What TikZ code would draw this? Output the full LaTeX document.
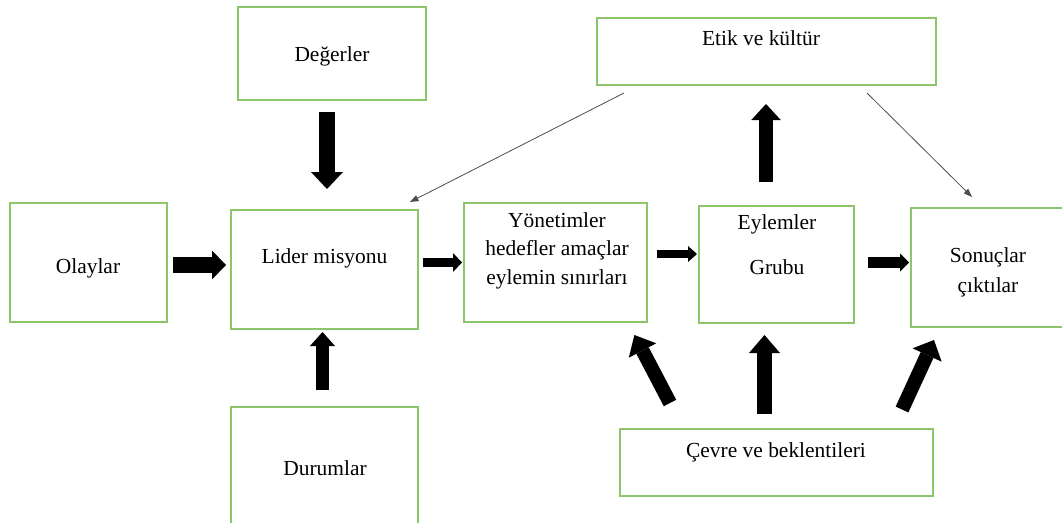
\documentclass[tikz,border=0pt]{standalone}
\usepackage{fontspec}
\setmainfont{Liberation Serif}
\usepackage{tikz}
\usetikzlibrary{calc}
\usetikzlibrary{arrows.meta}

\tikzset{
  box/.style={draw=r141g198b106, line width=0.030000cm, inner sep=0pt},
  boxtext/.style={inner sep=0pt, align=center},
  bigarrow/.style n args={3}{line width=#1, -{Triangle[width=#2, length=#3, line width=0pt]}},
  thinarrow/.style={line width=0.016cm, draw=black!70, -{Triangle[width=0.130000cm, length=0.170000cm, line width=0pt]}}
}

\begin{document}
\begin{tikzpicture}
                        \useasboundingbox (0,0) rectangle (21.240000,10.440000);
                        \clip (0,0) rectangle (21.240000,10.440000);
                        {\fontsize{12.2}{16.2}\selectfont

                        % Changing color 141 198 106
                        \definecolor{r141g198b106}{RGB}{141,198,106}%

                        % Drawing box Degerler
                        \node [box, minimum width=3.760000cm, minimum height=1.860000cm] (degerler) at (6.640000,9.370000) {};%
                        \node [boxtext, anchor=base] (degerlerText) at (6.640000,9.200000) {Değerler};%

                        % Drawing box Olaylar
                        \node [box, minimum width=3.140000cm, minimum height=2.380000cm] (olaylar) at (1.770000,5.190000) {};%
                        \node [boxtext, anchor=base] (olaylarText) at (1.760000,4.980000) {Olaylar};%

                        % Drawing box Lider misyonu
                        \node [box, minimum width=3.740000cm, minimum height=2.380000cm] (lider) at (6.490000,5.050000) {};%
                        \node [boxtext, anchor=base] (liderText) at (6.490000,5.180000) {Lider misyonu};%

                        % Drawing box Durumlar
                        \node [box, minimum width=3.740000cm, minimum height=2.660000cm] (durumlar) at (6.490000,0.970000) {};%
                        \node [boxtext, anchor=base] (durumlarText) at (6.500000,0.940000) {Durumlar};%

                        % Drawing box Yonetimler
                        \node [box, minimum width=3.660000cm, minimum height=2.380000cm] (yonetim) at (11.110000,5.190000) {};%
                        \node [boxtext, anchor=north] (yonetimText) at (11.140000,6.194000) {Yönetimler\\hedefler amaçlar\\eylemin sınırları};%

                        % Drawing box Eylemler
                        \node [box, minimum width=3.100000cm, minimum height=2.340000cm] (eylem) at (15.530000,5.150000) {};%
                        \node [boxtext, anchor=north] (eylemText) at (15.540000,6.154000) {Eylemler\\[9.4pt]Grubu};%

                        % Drawing box Sonuclar
                        \node [box, minimum width=3.780000cm, minimum height=2.380000cm] (sonuc) at (20.110000,5.090000) {};%
                        \node [boxtext, anchor=north] (sonucText) at (19.760000,5.494000) {Sonuçlar\\[0.9pt]çıktılar};%

                        % Drawing box Etik
                        \node [box, minimum width=6.780000cm, minimum height=1.340000cm] (etik) at (15.330000,9.410000) {};%
                        \node [boxtext, anchor=base] (etikText) at (15.220000,9.520000) {Etik ve kültür};%

                        % Drawing box Cevre
                        \node [box, minimum width=6.260000cm, minimum height=1.340000cm] (cevre) at (15.530000,1.190000) {};%
                        \node [boxtext, anchor=base] (cevreText) at (15.520000,1.300000) {Çevre ve beklentileri};%

                        % Marking arrow ends
                        \coordinate (olaylarOut) at (3.460000,5.140000);%
                        \coordinate (liderInW) at (4.520000,5.140000);%
                        \coordinate (liderOut) at (8.460000,5.190000);%
                        \coordinate (yonetimInW) at (9.240000,5.190000);%
                        \coordinate (yonetimOut) at (13.140000,5.360000);%
                        \coordinate (eylemInW) at (13.940000,5.360000);%
                        \coordinate (eylemOut) at (17.360000,5.190000);%
                        \coordinate (sonucInW) at (18.180000,5.190000);%
                        \coordinate (degerlerOut) at (6.540000,8.200000);%
                        \coordinate (liderInN) at (6.540000,6.660000);%
                        \coordinate (durumlarOut) at (6.450000,2.640000);%
                        \coordinate (liderInS) at (6.450000,3.800000);%
                        \coordinate (eylemOutN) at (15.320000,6.800000);%
                        \coordinate (etikInS) at (15.320000,8.360000);%
                        \coordinate (cevreOutN) at (15.290000,2.160000);%
                        \coordinate (eylemInS) at (15.290000,3.740000);%
                        \coordinate (cevreOutW) at (13.400000,2.380000);%
                        \coordinate (yonetimInS) at (12.688000,3.740000);%
                        \coordinate (cevreOutE) at (18.040000,2.250000);%
                        \coordinate (sonucInS) at (18.680000,3.640000);%
                        \coordinate (etikOutW) at (12.480000,8.580000);%
                        \coordinate (liderInNE) at (8.200000,6.400000);%
                        \coordinate (etikOutE) at (17.340000,8.580000);%
                        \coordinate (sonucInN) at (19.440000,6.500000);%

                        % Drawing block arrows
                        \draw [bigarrow={0.320000cm}{0.580000cm}{0.280000cm}] (olaylarOut) -- (liderInW);%
                        \draw [bigarrow={0.180000cm}{0.380000cm}{0.180000cm}] (liderOut) -- (yonetimInW);%
                        \draw [bigarrow={0.160000cm}{0.320000cm}{0.180000cm}] (yonetimOut) -- (eylemInW);%
                        \draw [bigarrow={0.220000cm}{0.360000cm}{0.180000cm}] (eylemOut) -- (sonucInW);%
                        \draw [bigarrow={0.320000cm}{0.640000cm}{0.340000cm}] (degerlerOut) -- (liderInN);%
                        \draw [bigarrow={0.260000cm}{0.500000cm}{0.280000cm}] (durumlarOut) -- (liderInS);%
                        \draw [bigarrow={0.280000cm}{0.590000cm}{0.320000cm}] (eylemOutN) -- (etikInS);%
                        \draw [bigarrow={0.300000cm}{0.620000cm}{0.360000cm}] (cevreOutN) -- (eylemInS);%
                        \draw [bigarrow={0.280000cm}{0.620000cm}{0.350000cm}] (cevreOutW) -- (yonetimInS);%
                        \draw [bigarrow={0.280000cm}{0.640000cm}{0.330000cm}] (cevreOutE) -- (sonucInS);%

                        % Drawing thin arrows from Etik
                        \draw [thinarrow] (etikOutW) -- (liderInNE);%
                        \draw [thinarrow] (etikOutE) -- (sonucInN);%
                        }
\end{tikzpicture}
\end{document}
